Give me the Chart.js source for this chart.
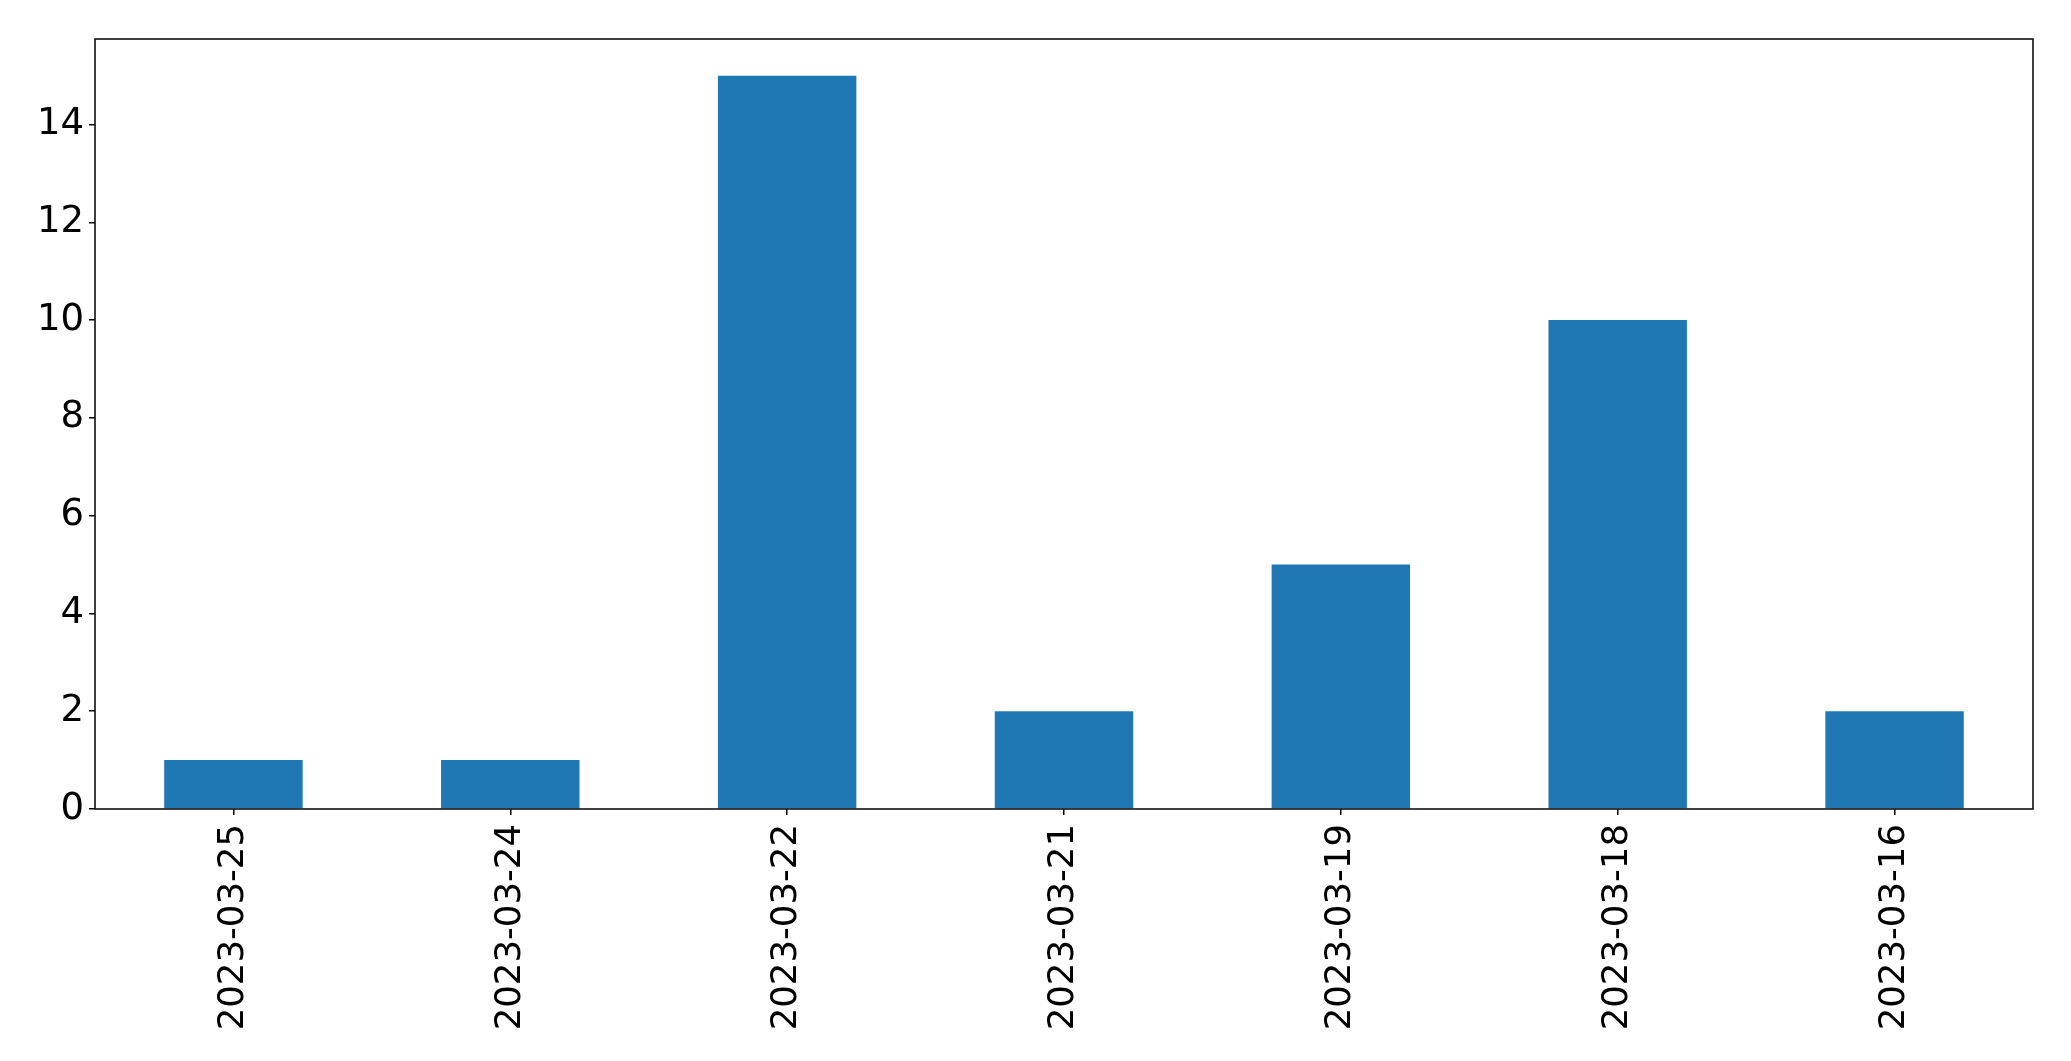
<!DOCTYPE html>
<html>
<head>
<meta charset="utf-8">
<script src="https://cdn.jsdelivr.net/npm/chart.js@4"></script>
<style>
  body { margin: 0; background: #fff; }
  #wrap { width: 2071px; height: 1061px; }
</style>
</head>
<body>
<div id="wrap"><canvas id="barChart" width="2071" height="1061"></canvas></div>
<script>
// data
const dates = ['2023-03-25', '2023-03-24', '2023-03-22', '2023-03-21', '2023-03-19', '2023-03-18', '2023-03-16'];
const counts = [1, 1, 15, 2, 5, 10, 2];
const yTicks = [0, 2, 4, 6, 8, 10, 12, 14];

// box around the plot area (matplotlib style frame)
const frame = {
    id: 'frame',
    afterDatasetsDraw(chart) {
        const a = chart.chartArea;
        const c = chart.ctx;
        c.save();
        c.strokeStyle = '#000';
        c.lineWidth = 1.5;
        c.strokeRect(a.left, a.top, a.right - a.left, a.bottom - a.top);
        c.restore();
    }
};

const ctx = document.getElementById('barChart').getContext('2d');
new Chart(ctx, {
    type: 'bar',
    data: {
        labels: dates,
        datasets: [{
            data: counts,
            backgroundColor: '#1f77b4',
            barPercentage: 0.5,
            categoryPercentage: 1.0
        }]
    },
    options: {
        responsive: false,
        animation: false,
        layout: { padding: { top: 39, right: 38, left: 0, bottom: 0 } },
        plugins: { legend: { display: false }, tooltip: { enabled: false } },
        scales: {
            x: {
                grid: { offset: false, drawOnChartArea: false, drawTicks: true, tickLength: 6, color: '#000', lineWidth: 1.5 },
                border: { display: false },
                ticks: {
                    color: '#000',
                    font: { family: 'DejaVu Sans', size: 35.5 },
                    maxRotation: 90,
                    minRotation: 90,
                    padding: 9
                },
                afterFit(scale) { scale.height = 252; }
            },
            y: {
                min: 0,
                max: 15.75,
                afterBuildTicks(scale) { scale.ticks = yTicks.map(v => ({ value: v })); },
                grid: { drawOnChartArea: false, drawTicks: true, tickLength: 6, color: '#000', lineWidth: 1.5 },
                border: { display: false },
                ticks: {
                    color: '#000',
                    font: { family: 'DejaVu Sans', size: 37 },
                    padding: 5
                },
                afterFit(scale) { scale.width = 95; }
            }
        }
    },
    plugins: [frame]
});
</script>
</body>
</html>
